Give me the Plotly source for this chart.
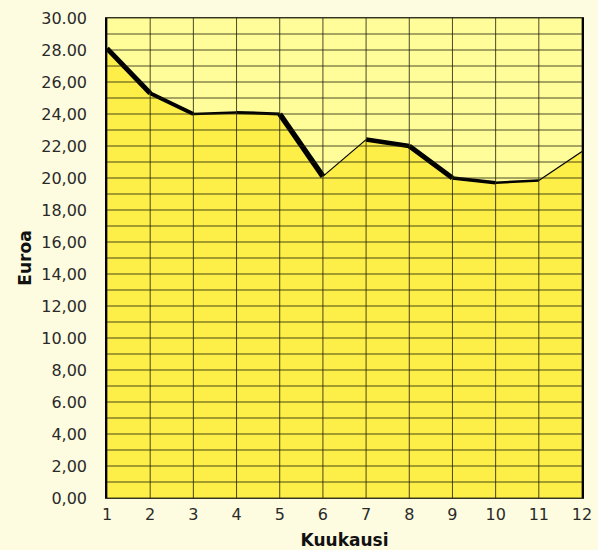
import plotly.graph_objects as go

months = [1, 2, 3, 4, 5, 6, 7, 8, 9, 10, 11, 12]
prices = [28.1, 25.3, 24.0, 24.1, 24.0, 20.1, 22.4, 22.0, 20.0, 19.7, 19.85, 21.65]
segment_widths = [5, 4, 2.5, 3, 5.5, 1.2, 4.5, 5, 3.5, 2.5, 1.2]
y_tickvals = [0, 2, 4, 6, 8, 10, 12, 14, 16, 18, 20, 22, 24, 26, 28, 30]
y_ticktext = ["0,00", "2,00", "4,00", "6.00", "8,00", "10.00", "12,00", "14,00",
              "16,00", "18,00", "20,00", "22,00", "24,00", "26,00", "28.00", "30.00"]
x_title = "Kuukausi"
y_title = "Euroa"

BG = "#FEFCE0"
UPPER = "#FFFD9A"
LOWER = "#FEEE48"
GRID = "rgba(30,30,10,0.8)"
FONT = "DejaVu Sans"
TICK_MARK_OFFSET = 0.08  # small left offset (in x units) for the triangle tick marks

fig = go.Figure()
fig.add_trace(go.Scatter(x=months, y=prices, mode="lines", fill="tozeroy",
                         fillcolor=LOWER, line=dict(width=0, color=LOWER),
                         hoverinfo="skip", showlegend=False))

shapes = []
for yv in range(0, 31):
    shapes.append(dict(type="line", xref="paper", yref="y", x0=0, x1=1, y0=yv, y1=yv,
                       line=dict(color=GRID, width=1), layer="above"))
for xv in months:
    shapes.append(dict(type="line", xref="x", yref="paper", x0=xv, x1=xv, y0=0, y1=1,
                       line=dict(color=GRID, width=1), layer="above"))

for i in range(len(months) - 1):
    fig.add_trace(go.Scatter(x=months[i:i + 2], y=prices[i:i + 2], mode="lines",
                             line=dict(color="black", width=segment_widths[i]),
                             showlegend=False, hoverinfo="skip", cliponaxis=False))

# triangle tick marks on the y axis
tick_y = y_tickvals[1:]
fig.add_trace(go.Scatter(x=[months[0] - TICK_MARK_OFFSET] * len(tick_y), y=tick_y,
                         mode="markers", cliponaxis=False,
                         marker=dict(symbol="triangle-left", size=7, color="black",
                                     line=dict(width=0)),
                         showlegend=False, hoverinfo="skip"))

fig.update_layout(
    width=598, height=550,
    margin=dict(l=107, r=16, t=18, b=52),
    paper_bgcolor=BG, plot_bgcolor=UPPER,
    font=dict(family=FONT, size=16, color="#2a2a2a"),
    shapes=shapes,
    xaxis=dict(range=[1, 12], tickvals=months, showgrid=False, zeroline=False,
               showline=True, linecolor="#333322", linewidth=1, mirror=True,
               automargin=False,
               ticks="outside", ticklen=2, tickcolor="rgba(0,0,0,0)",
               tickfont=dict(size=16, family=FONT, color="#2a2a2a"),
               title=dict(text=x_title,
                          font=dict(size=17, family=FONT, weight="bold", color="#111111"),
                          standoff=11)),
    yaxis=dict(range=[0, 30], tickvals=y_tickvals, ticktext=y_ticktext, showgrid=False,
               zeroline=False, showline=True, linecolor="black", linewidth=1.5, mirror=True,
               automargin=False,
               ticks="outside", ticklen=15, tickcolor="rgba(0,0,0,0)",
               tickfont=dict(size=16, family=FONT, color="#2a2a2a"),
               title=dict(text=y_title,
                          font=dict(size=17, family=FONT, weight="bold", color="#111111"),
                          standoff=5)),
)

fig.write_html("out.html", config={"displayModeBar": False},
               post_script="document.body.style.margin='0';"
                           "document.body.style.background='" + BG + "';")
